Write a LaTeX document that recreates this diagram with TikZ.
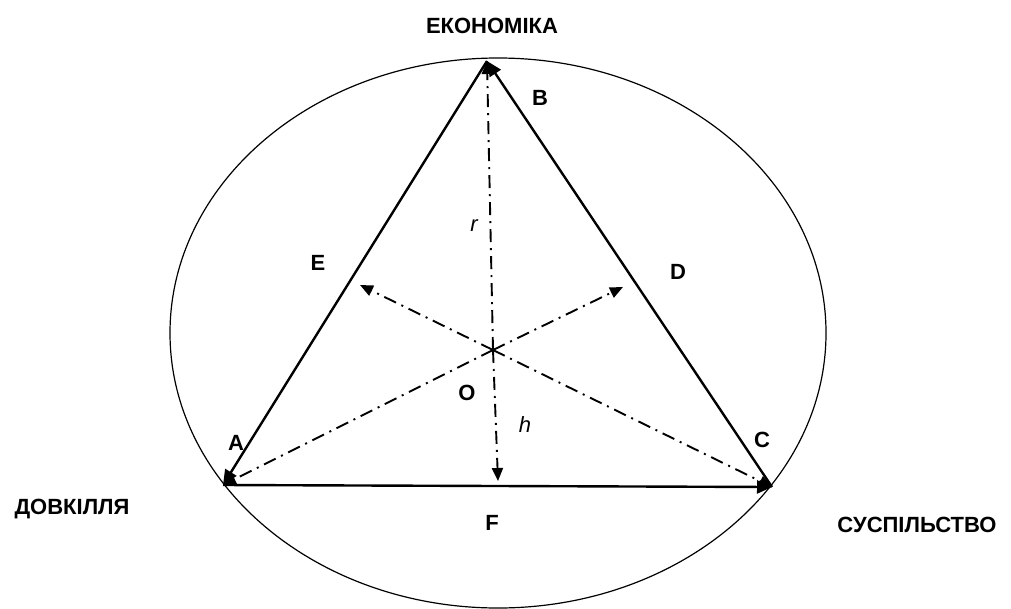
\documentclass[tikz,border=0pt]{standalone}
\usepackage{fontspec}
\setmainfont{Liberation Sans}
\usetikzlibrary{arrows.meta}
\tikzset{
  side/.style={line width=2.4pt,-{Triangle[length=15pt,width=13pt]}},
  axis/.style={line width=1.9pt,dash pattern=on 13pt off 6pt on 2pt off 6pt,-{Triangle[length=13pt,width=11pt]}},
  lbl/.style={font=\fontsize{22}{22}\selectfont\bfseries,inner sep=0pt},
  ital/.style={font=\fontsize{22}{22}\selectfont\itshape,inner sep=0pt}
}
\begin{document}
\begin{tikzpicture}[x=1pt,y=-1pt]
\useasboundingbox (0,0) rectangle (1011,608);
\coordinate (A) at (223,485);
\coordinate (B) at (487,61);
\coordinate (C) at (772,487);
\coordinate (O) at (493,350);
\coordinate (D) at (623,287);
\coordinate (E) at (360,285);
\coordinate (F) at (498,481);
\draw[line width=1.2pt] (498,333) ellipse [x radius=328, y radius=275];
\draw[side] (B) -- (A);
\draw[side] (A) -- (C);
\draw[side] (C) -- (B);
\draw[axis] (O) -- (B);
\draw[axis] (O) -- (F);
\draw[axis] (O) -- (A);
\draw[axis] (O) -- (C);
\draw[axis] (O) -- (D);
\draw[axis] (O) -- (E);
\node[lbl] (eko) at (492,26) {ЕКОНОМІКА};
\node[lbl] (dov) at (72,509) {ДОВКІЛЛЯ};
\node[lbl] (sus) at (917,525) {СУСПІЛЬСТВО};
\node[lbl] (lB) at (540,98) {B};
\node[lbl] (lE) at (318,263) {E};
\node[lbl] (lD) at (678,272) {D};
\node[lbl] (lO) at (467,393) {O};
\node[lbl] (lA) at (236,443) {A};
\node[lbl] (lC) at (762,440) {C};
\node[lbl] (lF) at (492,523) {F};
\node[ital] (lr) at (474,226) {r};
\node[ital] (lh) at (525,425) {h};
\end{tikzpicture}
\end{document}
